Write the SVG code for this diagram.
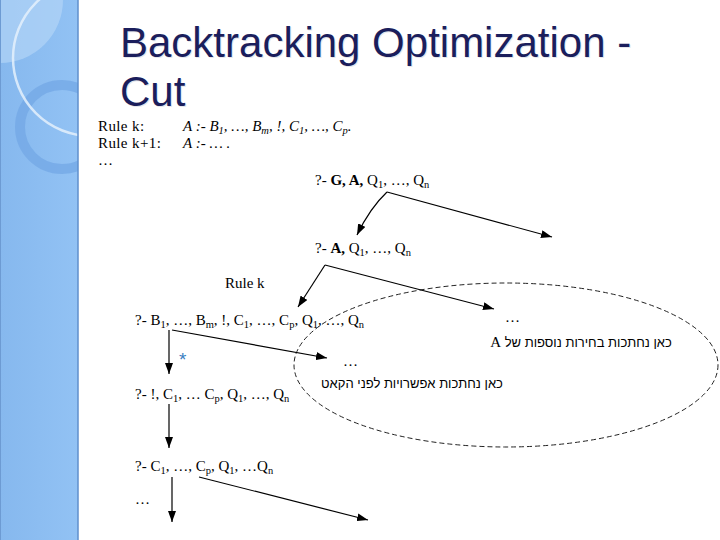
<svg xmlns="http://www.w3.org/2000/svg" width="720" height="540" viewBox="0 0 720 540">
<defs>
<style>
.t{font-family:"Liberation Serif","Times New Roman",serif;font-size:15px;fill:#000}
.rl{font-size:15px;letter-spacing:0.4px}
.i{font-style:italic}
.b{font-weight:bold}
.s{font-size:10.5px}
.he{font-family:"Liberation Sans","DejaVu Sans",sans-serif;font-size:13px;fill:#000}
.title{font-family:"Liberation Sans",Arial,sans-serif;font-size:42px;fill:#1b1e5c}
.shadow{font-family:"Liberation Sans",Arial,sans-serif;font-size:42px;fill:#c4c8d4;opacity:0.45}
.c{fill:none;stroke:#000;stroke-width:1.2}
</style>
<marker id="ah" markerUnits="userSpaceOnUse" markerWidth="11" markerHeight="8" refX="11" refY="4" orient="auto">
<path d="M0,0 L11,4 L0,8 z" fill="#000"/>
</marker>
<linearGradient id="side" x1="0" y1="0" x2="1" y2="0">
<stop offset="0" stop-color="#86b8ee"/>
<stop offset="1" stop-color="#92c2f4"/>
</linearGradient>
<clipPath id="sc"><rect x="0" y="0" width="78" height="540"/></clipPath>
</defs>
<rect width="720" height="540" fill="#fff"/>
<g id="sidebar">
<rect x="0" y="0" width="78" height="540" fill="url(#side)"/>
<g clip-path="url(#sc)">
<circle cx="0" cy="0" r="63" fill="#b2d4f6" opacity="0.7"/>
<circle cx="62" cy="127" r="42" fill="none" stroke="#74a9e6" stroke-width="10" opacity="0.8"/>
<circle cx="91" cy="58" r="78" fill="none" stroke="#e4f0fc" stroke-width="2.5" opacity="0.85"/>
</g>
<line x1="78" y1="0" x2="78" y2="540" stroke="#5f8fcc" stroke-width="1.5"/>
<line x1="0.5" y1="0" x2="0.5" y2="540" stroke="#6d9bd3" stroke-width="1"/>
</g>
<g id="title">
<text class="shadow" x="121" y="58">Backtracking Optimization -</text>
<text class="shadow" x="121" y="107">Cut</text>
<text class="title" x="120" y="57">Backtracking Optimization -</text>
<text class="title" x="120" y="106">Cut</text>
</g>
<g id="rules">
<text class="t rl" x="98" y="131">Rule k:</text>
<text class="t i" x="183" y="131">A :- B<tspan class="s" dy="3">1</tspan><tspan dy="-3">, …, B</tspan><tspan class="s" dy="3">m</tspan><tspan dy="-3">, !, C</tspan><tspan class="s" dy="3">1</tspan><tspan dy="-3">, …, C</tspan><tspan class="s" dy="3">p</tspan><tspan dy="-3">.</tspan></text>
<text class="t rl" x="98" y="148">Rule k+1:</text>
<text class="t i" x="183" y="148">A :- … .</text>
<text class="t" x="98" y="165">…</text>
</g>
<g id="n1">
<text class="t" x="315" y="185">?- <tspan class="b">G, A,</tspan> Q<tspan class="s" dy="3">1</tspan><tspan dy="-3">, …, Q</tspan><tspan class="s" dy="3">n</tspan></text>
</g>
<g id="n2">
<text class="t" x="315" y="253">?- <tspan class="b">A,</tspan> Q<tspan class="s" dy="3">1</tspan><tspan dy="-3">, …, Q</tspan><tspan class="s" dy="3">n</tspan></text>
</g>
<g id="rulek-label">
<text class="t" x="225" y="288">Rule k</text>
</g>
<g id="n3">
<text class="t" x="135" y="325">?- B<tspan class="s" dy="3">1</tspan><tspan dy="-3">, …, B</tspan><tspan class="s" dy="3">m</tspan><tspan dy="-3">, !, C</tspan><tspan class="s" dy="3">1</tspan><tspan dy="-3">, …, C</tspan><tspan class="s" dy="3">p</tspan><tspan dy="-3">, Q</tspan><tspan class="s" dy="3">1</tspan><tspan dy="-3">, …, Q</tspan><tspan class="s" dy="3">n</tspan></text>
</g>
<g id="n4">
<text class="t" x="135" y="399">?- !, C<tspan class="s" dy="3">1</tspan><tspan dy="-3">, … C</tspan><tspan class="s" dy="3">p</tspan><tspan dy="-3">, Q</tspan><tspan class="s" dy="3">1</tspan><tspan dy="-3">, …, Q</tspan><tspan class="s" dy="3">n</tspan></text>
</g>
<g id="n5">
<text class="t" x="135" y="471">?- C<tspan class="s" dy="3">1</tspan><tspan dy="-3">, …, C</tspan><tspan class="s" dy="3">p</tspan><tspan dy="-3">, Q</tspan><tspan class="s" dy="3">1</tspan><tspan dy="-3">, …Q</tspan><tspan class="s" dy="3">n</tspan></text>
</g>
<g id="dots">
<text class="t" x="505" y="322">…</text>
<text class="t" x="343" y="366">…</text>
<text class="t" x="135" y="504">…</text>
</g>
<g id="star">
<text x="179" y="366" font-family="Liberation Sans,Arial,sans-serif" font-size="19" fill="#3a7fc2">*</text>
</g>
<g id="cut-region">
<ellipse cx="506" cy="365" rx="212" ry="82" fill="none" stroke="#222" stroke-width="1" stroke-dasharray="5 3"/>
<text class="he" x="581" y="347" direction="rtl" text-anchor="middle">כאן נחתכות בחירות נוספות של <tspan font-family="Liberation Serif,serif" font-size="15">A</tspan></text>
<text class="he" x="412" y="388" direction="rtl" text-anchor="middle" font-size="12.5">כאן נחתכות אפשרויות לפני הקאט</text>
</g>
<g id="connectors">
<path class="c" d="M387,192 Q370,208 357,235" marker-end="url(#ah)"/>
<path class="c" d="M387,192 L552,237" marker-end="url(#ah)"/>
<path class="c" d="M325,265 L298,307" marker-end="url(#ah)"/>
<path class="c" d="M325,265 L494,309" marker-end="url(#ah)"/>
<path class="c" d="M169,330 L169,374" marker-end="url(#ah)"/>
<path class="c" d="M172,330 L327,358" marker-end="url(#ah)"/>
<path class="c" d="M169,404 L169,448" marker-end="url(#ah)"/>
<path class="c" d="M172,477 L172,522" marker-end="url(#ah)"/>
<path class="c" d="M199,477 L368,520" marker-end="url(#ah)"/>
</g>
</svg>
